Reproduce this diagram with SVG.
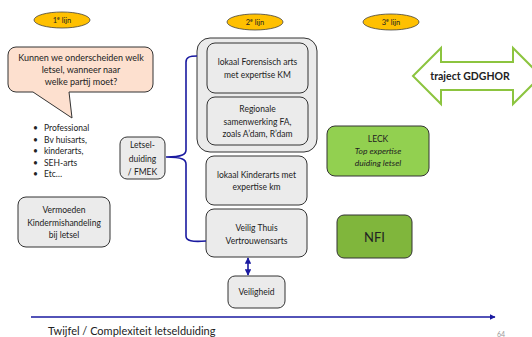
<svg xmlns="http://www.w3.org/2000/svg" width="532" height="337" viewBox="0 0 532 337">
<style>
text{font-family:Lato,"Open Sans","Liberation Sans",sans-serif;fill:#222;text-anchor:middle}
.t{font-size:9px}
.s{font-size:8.5px}
.e{font-size:7.5px}
.l{text-anchor:start}
.box{fill:#ebebeb;stroke:#333;stroke-width:1}
.oval{fill:#ffc000;stroke:#444;stroke-width:0.8}
.blue{fill:none;stroke:#1a1aa0;stroke-width:1.6}
</style>
<defs>
<marker id="ah" viewBox="0 0 10 10" refX="9" refY="5" markerWidth="4" markerHeight="4" orient="auto-start-reverse"><path d="M0,0L10,5L0,10z" fill="#1a1aa0"/></marker>
</defs>
<rect width="532" height="337" fill="#fff"/>

<g id="lijn1"><ellipse class="oval" cx="62" cy="20" rx="28" ry="8"/><text class="e" x="62" y="22.5">1<tspan font-size="5" dy="-2.5">e</tspan><tspan dy="2.5"> lijn</tspan></text></g>
<g id="lijn2"><ellipse class="oval" cx="255" cy="22" rx="28" ry="8"/><text class="e" x="255" y="24.5">2<tspan font-size="5" dy="-2.5">e</tspan><tspan dy="2.5"> lijn</tspan></text></g>
<g id="lijn3"><ellipse class="oval" cx="391" cy="22" rx="28" ry="8"/><text class="e" x="391" y="24.5">3<tspan font-size="5" dy="-2.5">e</tspan><tspan dy="2.5"> lijn</tspan></text></g>

<g id="vraag">
<path d="M16,47H145a8,8 0 0 1 8,8V84a8,8 0 0 1 -8,8H69L72,118L33,92H16a8,8 0 0 1 -8,-8V55a8,8 0 0 1 8,-8z" fill="#fde0cf" stroke="#333" stroke-width="1"/>
<text class="t" x="81" y="61">Kunnen we onderscheiden welk</text>
<text class="t" x="81" y="73">letsel, wanneer naar</text>
<text class="t" x="81" y="85">welke partij moet?</text>
</g>

<g id="professional">
<text class="s l" x="33" y="131">•</text><text class="s l" x="44" y="131">Professional</text>
<text class="s l" x="33" y="142.5">•</text><text class="s l" x="44" y="142.5">Bv huisarts,</text>
<text class="s l" x="33" y="154">•</text><text class="s l" x="44" y="154">kinderarts,</text>
<text class="s l" x="33" y="165.5">•</text><text class="s l" x="44" y="165.5">SEH-arts</text>
<text class="s l" x="33" y="177">•</text><text class="s l" x="44" y="177">Etc…</text>
</g>

<g id="letselduiding"><rect class="box" x="120" y="137" width="45" height="42" rx="7"/>
<text class="s" x="142.5" y="148">Letsel-</text><text class="s" x="142.5" y="161.5">duiding</text><text class="s" x="142.5" y="174.5">/ FMEK</text></g>

<g id="vermoeden"><rect class="box" x="18" y="197" width="92" height="50" rx="8"/>
<text class="s" x="64" y="213">Vermoeden</text><text class="s" x="64" y="226">Kindermishandeling</text><text class="s" x="64" y="238">bij letsel</text></g>

<g id="tweedelijn"><rect class="box" x="197" y="38" width="120" height="114" rx="13"/></g>
<g id="forensisch"><rect class="box" x="207" y="43" width="101" height="50" rx="8"/>
<text class="s" x="257.5" y="65">lokaal Forensisch arts</text><text class="s" x="257.5" y="78">met expertise KM</text></g>
<g id="regionale"><rect class="box" x="207" y="97" width="101" height="48" rx="8"/>
<text class="s" x="257.5" y="112">Regionale</text><text class="s" x="257.5" y="124.5">samenwerking FA,</text><text class="s" x="257.5" y="137">zoals A’dam, R’dam</text></g>
<g id="kinderarts"><rect class="box" x="206" y="156" width="101" height="49" rx="8"/>
<text class="s" x="256.5" y="177.5">lokaal Kinderarts met</text><text class="s" x="256.5" y="190">expertise km</text></g>
<g id="veiligthuis"><rect class="box" x="206" y="209" width="101" height="48" rx="8"/>
<text class="s" x="256.5" y="230.5">Veilig Thuis</text><text class="s" x="256.5" y="243.5">Vertrouwensarts</text></g>
<g id="veiligheid"><rect class="box" x="228" y="276" width="57" height="32" rx="7"/>
<text class="s" x="256.5" y="295">Veiligheid</text></g>

<g id="leck"><rect x="327" y="126" width="102" height="50" rx="8" fill="#92d050" stroke="#333" stroke-width="1"/>
<text class="s" x="378" y="142">LECK</text><text class="s" x="378" y="154" font-style="italic">Top expertise</text><text class="s" x="378" y="166" font-style="italic">duiding letsel</text></g>
<g id="nfi"><rect x="337" y="215" width="75" height="43" rx="7" fill="#80b63c" stroke="#333" stroke-width="1"/>
<text x="374.5" y="241.5" font-size="13">NFI</text></g>

<g id="gdghor"><path d="M413,76L441,48V62H513V48L541,76L513,104V90H441V104z" fill="#fff" stroke="#8cc43f" stroke-width="2"/>
<text x="470" y="80" font-size="10.5" font-weight="bold">traject GDGHOR</text></g>

<g id="connectors">
<path class="blue" d="M197,56C190,56 186,57 186,62V150C186,154 183,157 166,157M166,157C183,157 186,160 186,164V236C186,241 192,242 206,241"/>
<line class="blue" x1="248" y1="258" x2="248" y2="275" marker-start="url(#ah)" marker-end="url(#ah)"/>
<line x1="31" y1="317" x2="495" y2="317" stroke="#1a1aa0" stroke-width="1.4" marker-end="url(#ah)"/>
</g>

<text class="l" x="48" y="335" font-size="11">Twijfel / Complexiteit letselduiding</text>
<text class="l" x="497" y="337" font-size="7" style="fill:#999">64</text>
</svg>
